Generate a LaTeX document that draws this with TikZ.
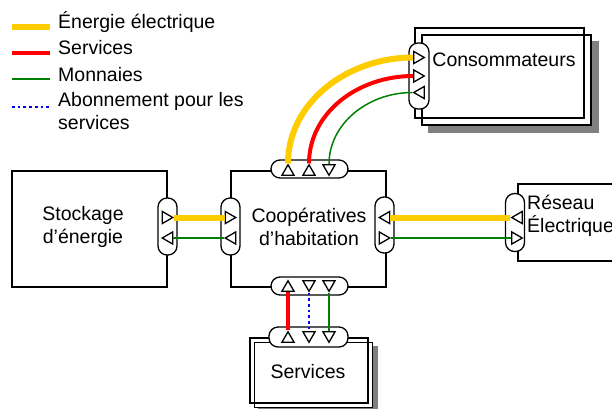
\documentclass[tikz,border=0pt]{standalone}
\usepackage{fontspec}
\setmainfont{Liberation Sans}
\usetikzlibrary{shapes.geometric}
\definecolor{elecyellow}{HTML}{FFCC00}
\definecolor{moneygreen}{HTML}{008000}
\tikzset{
  lbl/.style={font=\fontsize{19.5}{23}\selectfont, inner sep=0pt, align=center},
  block/.style={draw, line width=1.3pt, inner sep=0pt},
  backblock/.style={block, fill=white},
  shadowblock/.style={draw=black!50, fill=black!50, line width=1.3pt, inner sep=0pt},
  port/.style={draw, fill=white, line width=1.3pt, rounded corners=9pt, inner sep=0pt},
  tri/.style={draw, fill=white, line width=1.3pt, regular polygon, regular polygon sides=3, minimum size=14pt, inner sep=0pt},
  triup/.style={tri},
  tridown/.style={tri, shape border rotate=180},
  triright/.style={tri, shape border rotate=-90},
  trileft/.style={tri, shape border rotate=90},
  elec/.style={line width=6pt, elecyellow},
  serv/.style={line width=4pt, red},
  money/.style={line width=1.5pt, moneygreen},
  abo/.style={line width=2.3pt, blue, dash pattern=on 2.7pt off 3pt},
}
\begin{document}
\begin{tikzpicture}[x=1pt, y=-1pt]
\useasboundingbox (0,0) rectangle (612,408);
% legende
\node[lbl, anchor=base west] (legelec) at (58,28) {Énergie électrique};
\node[lbl, anchor=base west] (legserv) at (58,54) {Services};
\node[lbl, anchor=base west] (legmoney) at (58,81) {Monnaies};
\node[lbl, anchor=base west, align=left] (legabo) at (58,129) {Abonnement pour les\\services};
\draw[elec] (12,27) -- (50,27);
\draw[serv] (12,53) -- (50,53);
\draw[money] (12,79) -- (50,79);
\draw[abo] (12,107) -- (50,107);

% blocs
\node[block, minimum width=155pt, minimum height=116pt] (stock) at (89.5,229) {};
\node[block, minimum width=155pt, minimum height=116pt] (coop) at (308.5,229) {};
\node[block, minimum width=130pt, minimum height=77pt] (grid) at (583,222.5) {};
\node[shadowblock, minimum width=169pt, minimum height=90pt] (consoshadow) at (513.5,87) {};
\node[backblock, minimum width=169pt, minimum height=90pt] (consoback) at (506.5,80) {};
\node[block, minimum width=169pt, minimum height=90pt] (conso) at (499.5,73) {};
\node[shadowblock, minimum width=118pt, minimum height=65pt] (servshadow) at (318,379.5) {};
\node[backblock, minimum width=118pt, minimum height=65pt] (servback) at (313.5,375) {};
\node[block, minimum width=118pt, minimum height=65pt] (serv) at (309,370.5) {};

% ports
\node[port, minimum width=19pt, minimum height=57pt] (stockport) at (167.5,226.5) {};
\node[port, minimum width=19pt, minimum height=57pt] (coopwest) at (230.5,226.5) {};
\node[port, minimum width=19pt, minimum height=56pt] (coopeast) at (384.5,225) {};
\node[port, minimum width=77pt, minimum height=18pt] (coopnorth) at (309.5,169) {};
\node[port, minimum width=77pt, minimum height=18pt] (coopsouth) at (309.5,286) {};
\node[port, minimum width=19pt, minimum height=58pt] (gridport) at (515,222.5) {};
\node[port, minimum width=20pt, minimum height=66pt] (consoport) at (419,76) {};
\node[port, minimum width=79pt, minimum height=20pt] (servport) at (308.5,337) {};

\foreach \n/\k/\x/\y in {s1/triright/165.75/217.5, s2/trileft/169.25/238,
    w1/triright/228.75/217.5, w2/trileft/232.25/238,
    e1/trileft/386.25/217.5, e2/triright/382.75/238,
    g1/trileft/518.75/217.5, g2/triright/515.25/238,
    k1/triright/417.25/57.5, k2/triright/417.25/76, k3/trileft/420.75/92.5,
    n1/triup/288/171.75, n2/triup/309/171.75, n3/tridown/329/168.25,
    d1/triup/288/287.75, d2/tridown/309/284.25, d3/tridown/329/284.25,
    v1/triup/288/338.75, v2/tridown/309/335.25, v3/tridown/329/335.25}
{
    \node[\k] (\n) at (\x,\y) {};
}

% textes
\node[lbl] (stocktxt) at (83,226.5) {Stockage\\d’énergie};
\node[lbl] (cooptxt) at (309,227) {Coopératives\\d’habitation};
\node[lbl] (consotxt) at (504,60) {Consommateurs};
\node[lbl, anchor=west, align=left] (gridtxt) at (527,215.5) {Réseau\\Électrique};
\node[lbl] (servtxt) at (308,372) {Services};

% flux
\draw[elec] (s1) -- (w1);
\draw[money] (w2) -- (s2);
\draw[elec] (g1) -- (e1);
\draw[money] (e2) -- (g2);
\draw[elec] (n1.north) .. controls +(0,-60) and +(-67,0) .. (k1.west);
\draw[serv] (n2.north) .. controls +(0,-50) and +(-56,0) .. (k2.west);
\draw[money] (k3.west) .. controls +(-45,0) and +(0,-40) .. (n3.north);
\draw[serv] (v1) -- (d1);
\draw[abo] (d2) -- (v2);
\draw[money] (d3) -- (v3);
\end{tikzpicture}
\end{document}
